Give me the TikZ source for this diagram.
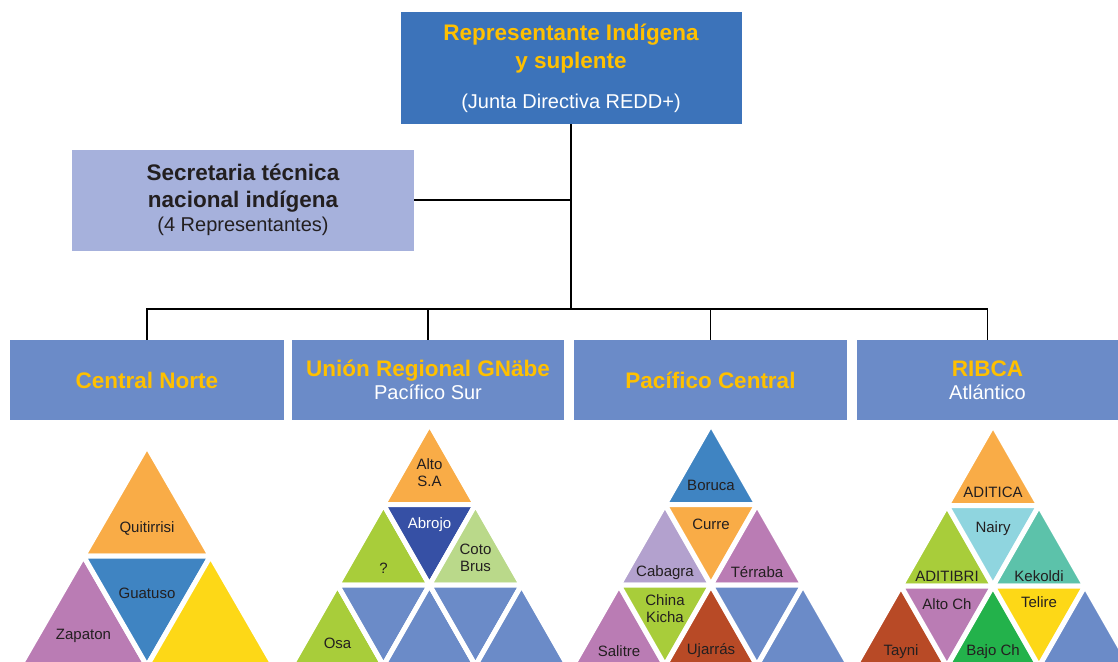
\documentclass[tikz,border=0pt]{standalone}
\usepackage{fontspec}
\setmainfont{Liberation Sans}
\usepackage{tikz}

\definecolor{topblue}{HTML}{3C73BA}
\definecolor{secblue}{HTML}{A6B1DC}
\definecolor{regblue}{HTML}{6B8BC8}
\definecolor{gold}{HTML}{FFC000}
\definecolor{ink}{HTML}{231F20}
\definecolor{orange}{HTML}{F9AC47}
\definecolor{midblue}{HTML}{3F84C2}
\definecolor{pink}{HTML}{BA7CB4}
\definecolor{yellow}{HTML}{FDD817}
\definecolor{navy}{HTML}{3650A5}
\definecolor{lime}{HTML}{A8CD3A}
\definecolor{palegreen}{HTML}{BAD98A}
\definecolor{lavender}{HTML}{B3A1CE}
\definecolor{rust}{HTML}{B84A26}
\definecolor{cyan}{HTML}{8FD5DF}
\definecolor{teal}{HTML}{5CC2AA}
\definecolor{green}{HTML}{23B24B}

\newcommand{\hd}[1]{{\bfseries\fontsize{22.5}{24}\selectfont #1}}
\newcommand{\upfill}[3]{\filldraw[tri,fill=#3] (#1,#2) -- ++(-1,1) -- ++(2,0) -- cycle;}
\newcommand{\downfill}[3]{\filldraw[tri,fill=#3] (#1,#2+1) -- ++(-1,-1) -- ++(2,0) -- cycle;}
\newcommand{\uptri}[5]{\upfill{#1}{#2}{#3}\node[lbl] (t#1r#2) at (#1,#2+#4) {#5};}
\newcommand{\downtri}[5]{\downfill{#1}{#2}{#3}\node[lbl] (t#1r#2) at (#1,#2+#4) {#5};}

\begin{document}
\begin{tikzpicture}[x=1pt,y=-1pt,
    box/.style={rectangle,inner sep=0pt,align=center,font=\fontsize{20}{24}\selectfont},
    boss/.style={box,fill=topblue,text=gold,minimum width=341pt,minimum height=112pt},
    sec/.style={box,fill=secblue,text=ink,minimum width=342pt,minimum height=101pt},
    region/.style={box,fill=regblue,text=gold,minimum height=80pt},
    link/.style={draw=black,line width=1.4pt},
    tri/.style={draw=white,line width=5pt,line join=miter},
    lbl/.style={inner sep=0pt,align=center,text=ink,font=\fontsize{15}{17}\selectfont}]
	\clip (0,0) rectangle (1118,661);
	\begin{scope}[shift={(147pt,-446pt)},x=63.5pt,y=-110pt,name prefix=cn-]
		\uptri{0}{0}{orange}{.75}{Quitirrisi}
		\uptri{-1}{1}{pink}{.73}{Zapaton}
		\downtri{0}{1}{midblue}{.34}{Guatuso}
		\upfill{1}{1}{yellow}
	\end{scope}
	\begin{scope}[shift={(429.5pt,-424pt)},x=46pt,y=-80.5pt,name prefix=ur-]
		\uptri{0}{0}{orange}{.6}{Alto\\S.A}
		\uptri{-1}{1}{lime}{.79}{?}
		\downtri{0}{1}{navy}{.25}{\textcolor{white}{Abrojo}}
		\uptri{1}{1}{palegreen}{.66}{Coto\\Brus}
		\uptri{-2}{2}{lime}{.73}{Osa}
		\downfill{-1}{2}{regblue}
		\upfill{0}{2}{regblue}
		\downfill{1}{2}{regblue}
		\upfill{2}{2}{regblue}
	\end{scope}
	\begin{scope}[shift={(711pt,-424pt)},x=46pt,y=-80.5pt,name prefix=pc-]
		\uptri{0}{0}{midblue}{.76}{Boruca}
		\uptri{-1}{1}{lavender}{.84}{Cabagra}
		\downtri{0}{1}{orange}{.25}{Curre}
		\uptri{1}{1}{pink}{.84}{Térraba}
		\uptri{-2}{2}{pink}{.82}{Salitre}
		\downtri{-1}{2}{lime}{.29}{China\\Kicha}
		\uptri{0}{2}{rust}{.82}{Ujarrás}
		\downfill{1}{2}{regblue}
		\upfill{2}{2}{regblue}
	\end{scope}
	\begin{scope}[shift={(993pt,-425pt)},x=46pt,y=-80.5pt,name prefix=rb-]
		\uptri{0}{0}{orange}{.84}{ADITICA}
		\uptri{-1}{1}{lime}{.88}{ADITIBRI}
		\downtri{0}{1}{cyan}{.29}{Nairy}
		\uptri{1}{1}{teal}{.88}{Kekoldi}
		\uptri{-2}{2}{rust}{.82}{Tayni}
		\downtri{-1}{2}{pink}{.22}{Alto Ch}
		\uptri{0}{2}{green}{.82}{Bajo Ch}
		\downtri{1}{2}{yellow}{.2}{Telire}
		\upfill{2}{2}{regblue}
	\end{scope}
	\node[boss] (rep) at (571,68) {\hd{Representante Indígena}\\[4pt] \hd{y suplente}\\[16pt] \textcolor{white}{(Junta Directiva REDD+)}};
	\node[sec] (stni) at (243,200) {\hd{Secretaria técnica}\\[3pt] \hd{nacional indígena}\\ (4 Representantes)};
	\node[region,minimum width=274pt] (cn) at (147,380) {\hd{Central Norte}};
	\node[region,minimum width=272pt] (ur) at (428,380) {\hd{Unión Regional GNäbe}\\[-1pt] \textcolor{white}{Pacífico Sur}};
	\node[region,minimum width=273pt] (pc) at (710.5,380) {\hd{Pacífico Central}};
	\node[region,minimum width=261pt] (rb) at (987.5,380) {\hd{RIBCA}\\[-1pt] \textcolor{white}{Atlántico}};
	\coordinate (hub) at (571,309);
	\path[link] (rep) -- (hub)
		(stni) -- (stni -| hub)
		(hub) -| (cn)
		(hub) -| (ur)
		(hub) -| (pc)
		(hub) -| (rb);
\end{tikzpicture}
\end{document}
